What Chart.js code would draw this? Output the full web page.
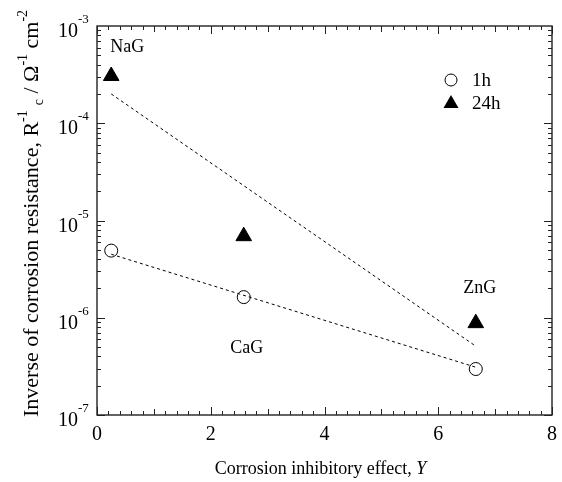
<!DOCTYPE html>
<html>
<head>
<meta charset="utf-8">
<script src="https://cdn.jsdelivr.net/npm/chart.js@4"></script>
<style>
  html, body { margin: 0; padding: 0; background: #fff; }
  #wrap { width: 562px; height: 482px; }
</style>
</head>
<body>
<div id="wrap"><canvas id="chart" width="562" height="482"></canvas></div>
<script>
// data
const salts = ['NaG', 'CaG', 'ZnG'];
const effectY = [0.25, 2.58, 6.66];
const inv1h = [4.9e-6, 1.63e-6, 2.97e-7];
const inv24h = [3.06e-4, 6.9e-6, 8.8e-7];
const fit1hX = [0.25, 6.66];
const fit1hY = [4.5e-6, 3.1e-7];
const fit24hX = [0.25, 6.66];
const fit24hY = [2.0e-4, 5.1e-7];
const seriesNames = ['1h', '24h'];
const xTicks = [0, 2, 4, 6, 8];
const yDecades = [-7, -6, -5, -4, -3];

const SERIF = '"Liberation Serif", "DejaVu Serif", serif';
const pts = (xs, ys) => xs.map((x, i) => ({ x: x, y: ys[i] }));

// frame, inside ticks, labels and titles
const axesPlugin = {
    id: 'axesPlugin',
    afterDraw(chart) {
        const ctx = chart.ctx;
        const xs = chart.scales.x, ys = chart.scales.y;
        const a = chart.chartArea;
        ctx.save();
        ctx.strokeStyle = '#222';
        ctx.lineWidth = 1.4;
        ctx.strokeRect(a.left, a.top, a.right - a.left, a.bottom - a.top);

        ctx.lineWidth = 1;
        ctx.beginPath();
        // x ticks every 0.2, medium on odd units, major every 2
        for (let i = 0; i <= 40; i++) {
            const v = i * 0.2;
            const px = Math.round(xs.getPixelForValue(v)) + 0.5;
            let len = 4;
            if (i % 10 === 0) len = 8;
            else if (i % 5 === 0) len = 6;
            ctx.moveTo(px, a.bottom); ctx.lineTo(px, a.bottom - len);
            ctx.moveTo(px, a.top); ctx.lineTo(px, a.top + len);
        }
        // y ticks: decades and 2..9
        for (let d = -7; d < -3; d++) {
            for (let m = 1; m <= 9; m++) {
                const py = Math.round(ys.getPixelForValue(m * Math.pow(10, d))) + 0.5;
                const len = m === 1 ? 8 : 4;
                ctx.moveTo(a.left, py); ctx.lineTo(a.left + len, py);
                ctx.moveTo(a.right, py); ctx.lineTo(a.right - len, py);
            }
        }
        ctx.stroke();

        ctx.fillStyle = '#000';
        // x tick labels
        ctx.font = '20px ' + SERIF;
        ctx.textAlign = 'center';
        ctx.textBaseline = 'alphabetic';
        xTicks.forEach(v => {
            ctx.fillText(String(v), xs.getPixelForValue(v), a.bottom + 25);
        });
        // y tick labels 10^n
        yDecades.forEach(d => {
            const py = ys.getPixelForValue(Math.pow(10, d));
            ctx.font = '20px ' + SERIF;
            ctx.textAlign = 'right';
            ctx.fillText('10', 78, py + 11);
            ctx.font = '13px ' + SERIF;
            ctx.textAlign = 'left';
            ctx.fillText(String(d), 78, py - 3);
        });

        // x title
        ctx.font = '18px ' + SERIF;
        ctx.textAlign = 'left';
        const t1 = 'Corrosion inhibitory effect, ';
        const w1 = ctx.measureText(t1).width;
        ctx.font = 'italic 18px ' + SERIF;
        const w2 = ctx.measureText('Y').width;
        const x0 = (a.left + a.right) / 2 - 4 - (w1 + w2) / 2;
        ctx.font = '18px ' + SERIF;
        ctx.fillText(t1, x0, 474);
        ctx.font = 'italic 18px ' + SERIF;
        ctx.fillText('Y', x0 + w1, 474);

        // y title, rotated
        ctx.save();
        ctx.translate(38, 417);
        ctx.rotate(-Math.PI / 2);
        let cx = 0;
        const part = (txt, size, dy) => {
            ctx.font = size + 'px ' + SERIF;
            ctx.fillText(txt, cx, dy);
            cx += ctx.measureText(txt).width;
        };
        part('Inverse of corrosion resistance, R', 22, 0);
        part('-1', 14, -11);
        cx += 5;
        part('c', 14, 5);
        part(' / \u03A9', 22, 0);
        part('-1', 14, -11);
        part(' cm', 22, 0);
        part('-2', 14, -11);
        ctx.restore();

        // point labels
        ctx.font = '18px ' + SERIF;
        ctx.textAlign = 'center';
        const lab = (i, series, dx, dy) => {
            ctx.fillText(salts[i], xs.getPixelForValue(effectY[i]) + dx, ys.getPixelForValue(series[i]) + dy);
        };
        lab(0, inv24h, 16, -24);
        lab(1, inv1h, 3, 56);
        lab(2, inv24h, 4, -30);

        // legend
        const lx = 451;
        ctx.lineWidth = 1;
        ctx.beginPath();
        ctx.arc(lx, 80, 6, 0, Math.PI * 2);
        ctx.fillStyle = '#fff';
        ctx.fill();
        ctx.strokeStyle = '#000';
        ctx.stroke();
        ctx.beginPath();
        ctx.moveTo(lx, 95); ctx.lineTo(lx + 7.5, 108); ctx.lineTo(lx - 7.5, 108);
        ctx.closePath();
        ctx.fillStyle = '#000';
        ctx.fill();
        ctx.textAlign = 'left';
        ctx.font = '19px ' + SERIF;
        ctx.fillText(seriesNames[0], 472, 86);
        ctx.fillText(seriesNames[1], 472, 109);
        ctx.restore();
    }
};

new Chart(document.getElementById('chart'), {
    type: 'scatter',
    data: {
        datasets: [
            {
                label: 'fit 1h',
                type: 'line',
                data: pts(fit1hX, fit1hY),
                borderColor: '#000',
                borderWidth: 1,
                borderDash: [3, 3],
                pointRadius: 0,
                fill: false
            },
            {
                label: 'fit 24h',
                type: 'line',
                data: pts(fit24hX, fit24hY),
                borderColor: '#000',
                borderWidth: 1,
                borderDash: [3, 3],
                pointRadius: 0,
                fill: false
            },
            {
                label: seriesNames[0],
                data: pts(effectY, inv1h),
                pointStyle: 'circle',
                pointRadius: 6.5,
                pointBackgroundColor: '#fff',
                pointBorderColor: '#000',
                pointBorderWidth: 1
            },
            {
                label: seriesNames[1],
                data: pts(effectY, inv24h),
                pointStyle: 'triangle',
                pointRadius: 9,
                pointBackgroundColor: '#000',
                pointBorderColor: '#000',
                pointBorderWidth: 1
            }
        ]
    },
    options: {
        responsive: false,
        animation: false,
        layout: { padding: { left: 97, right: 10, top: 26, bottom: 67 } },
        plugins: { legend: { display: false }, tooltip: { enabled: false } },
        scales: {
            x: { type: 'linear', min: 0, max: 8, display: false },
            y: { type: 'logarithmic', min: 1e-7, max: 1e-3, display: false }
        }
    },
    plugins: [axesPlugin]
});
</script>
</body>
</html>
